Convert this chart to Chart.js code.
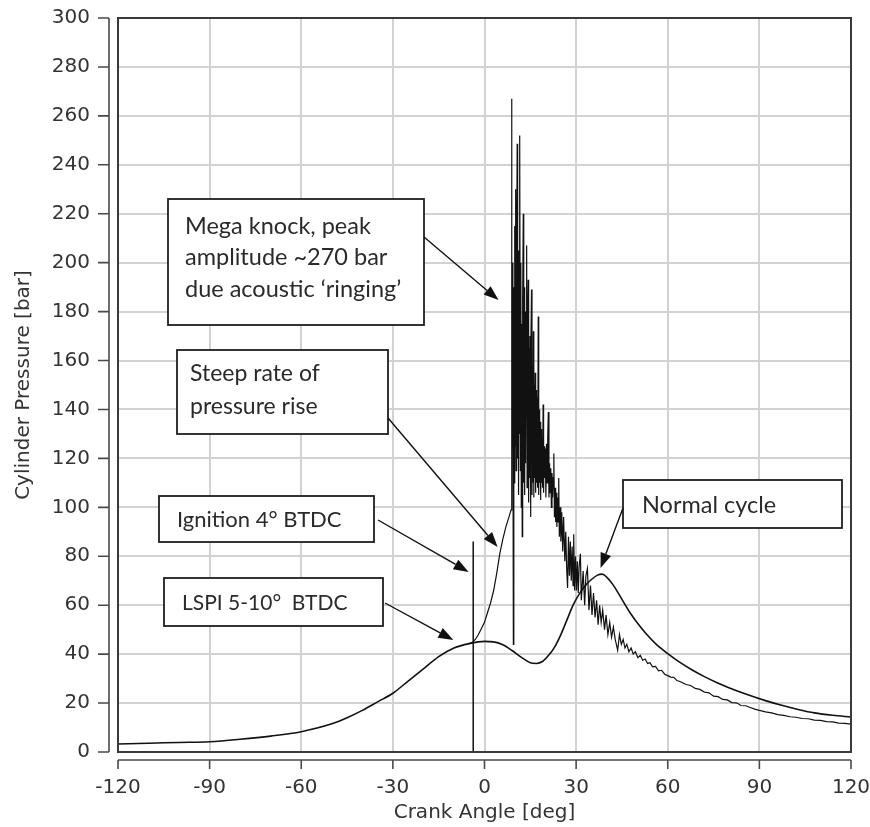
<!DOCTYPE html>
<html>
<head>
<meta charset="utf-8">
<script src="https://cdn.jsdelivr.net/npm/chart.js@4"></script>
<style>
html, body { margin: 0; padding: 0; background: #fff; }
canvas { display: block; }
</style>
</head>
<body>
<canvas id="myChart" width="870" height="827"></canvas>
<script>
// tick labels
const xTicks = [-120, -90, -60, -30, 0, 30, 60, 90, 120];
const yTicks = [0, 20, 40, 60, 80, 100, 120, 140, 160, 180, 200, 220, 240, 260, 280, 300];

// normal combustion cycle
const normalAngle = [-120, -110, -100, -90, -80, -70, -60, -50, -45, -40, -35, -30, -25, -20, -15, -10, -5, 0, 3, 6, 9, 12, 15, 17, 19, 21, 23, 25, 27, 29, 31, 33, 35, 37, 38.5, 40, 42, 44, 46, 48, 50, 53, 56, 60, 64, 68, 72, 76, 80, 86, 92, 97, 103, 108, 114, 120];
const normalPressure = [3.3, 3.6, 3.9, 4.2, 5.2, 6.5, 8.3, 11.5, 14, 17, 20.5, 24, 29, 34, 39, 42.5, 44.3, 45.2, 45, 43.8, 41.5, 38.8, 36.5, 36.2, 37, 39.5, 43, 48, 54, 60, 64.5, 68, 70.5, 72.3, 72.7, 71.5, 68.5, 64.5, 60.3, 56.3, 52.8, 48.2, 44.3, 40.2, 36.6, 33.5, 30.8, 28.4, 26.3, 23.5, 21, 19.2, 17.3, 16, 15, 14.3];

// LSPI / mega knock cycle [angle, pressure], branches off after ignition
const knockTrace = [
  [-5, 44.3], [-4, 44.8], [-3, 46], [-2, 48], [-1, 50.5], [0, 53], [1, 57], [2, 61], [3, 66], [4, 73],
  [5, 81], [6, 87], [7, 92], [8, 96], [8.7, 99],
  [8.85, 267], [9.0, 120], [9.15, 200], [9.3, 150], [9.45, 44], [9.6, 190], [9.75, 110], [9.9, 215], [10.05, 125], [10.2, 230],
  [10.35, 115], [10.5, 195], [10.7, 248.6], [10.85, 120], [11.0, 205], [11.15, 105], [11.3, 185], [11.45, 130], [11.6, 252], [11.75, 115],
  [11.9, 200], [12.05, 100], [12.2, 175], [12.35, 88], [12.5, 185], [12.7, 220], [12.85, 110], [13.0, 190], [13.15, 105], [13.3, 180],
  [13.45, 118], [13.6, 170], [13.8, 207], [13.95, 108], [14.1, 175], [14.3, 193], [14.45, 102], [14.6, 165], [14.75, 112], [14.9, 170],
  [15.05, 96], [15.2, 160], [15.4, 189], [15.55, 105], [15.7, 158], [15.85, 110], [16.0, 172], [16.15, 104], [16.3, 150], [16.45, 112],
  [16.6, 155], [16.75, 106], [16.9, 148], [17.05, 110], [17.2, 145], [17.4, 108], [17.6, 178], [17.75, 105], [17.9, 140], [18.05, 110],
  [18.2, 135], [18.4, 103], [18.55, 132], [18.7, 110], [18.85, 128], [19.0, 108], [19.2, 142], [19.35, 106], [19.5, 125], [19.7, 112],
  [19.9, 124], [20.1, 104], [20.3, 126], [20.5, 110], [20.7, 128], [20.9, 139], [21.1, 104], [21.3, 118], [21.5, 106], [21.7, 116],
  [21.9, 100], [22.1, 114], [22.3, 104], [22.5, 112], [22.7, 122], [22.9, 96], [23.1, 108], [23.3, 94], [23.5, 106], [23.7, 92],
  [23.9, 104], [24.1, 94], [24.3, 112], [24.5, 88], [24.8, 100], [25.0, 86], [25.3, 98], [25.6, 82], [25.9, 96], [26.3, 78],
  [26.6, 90], [26.9, 75], [27.2, 67], [27.5, 88], [27.8, 72], [28.1, 86], [28.4, 70], [28.7, 84], [29.0, 68], [29.2, 89],
  [29.5, 66], [29.8, 80], [30.1, 66], [30.4, 78], [30.7, 65], [31.0, 76], [31.4, 81], [31.7, 62], [32.3, 74], [32.8, 60],
  [33.2, 72], [33.7, 75], [34.2, 58], [34.7, 68], [35.2, 56], [35.7, 65], [36.2, 55], [36.7, 62], [37.2, 52], [37.7, 60],
  [38.2, 53], [38.7, 58], [39.3, 50], [39.8, 56], [40.4, 48], [41.0, 53], [41.6, 47], [42.2, 51], [42.8, 46], [43.6, 41.6],
  [44.2, 48], [44.8, 44], [45.4, 46], [46.0, 42.5], [46.6, 44], [47.3, 41], [48.0, 42.5], [48.7, 40], [49.4, 41], [50.2, 38.5],
  [51, 39.5], [51.8, 37.5], [52.6, 38], [53.4, 36.2], [54.2, 36.5], [55, 34.8], [56, 35], [57, 33.2], [58, 33.4], [59, 31.8],
  [60, 31.2], [61, 30.6], [62, 30.5], [63, 29.2], [64, 28.8], [65, 28.2], [66, 27.6], [67.5, 27.2], [69, 26], [70.5, 25.6],
  [72, 24.5], [73.5, 24.2], [75, 22.8], [76.5, 22.6], [78, 21.5], [79.5, 21.3], [81, 20.2], [82.5, 20.1], [84, 19], [85.5, 18.9],
  [87, 18.2], [88.5, 17.5], [90, 17], [92, 16.4], [94, 16], [96, 15.3], [98, 15], [100, 14.4], [102, 14.2], [104, 13.7],
  [106, 13.6], [108, 13], [110, 12.9], [112, 12.4], [114, 12.3], [116, 11.8], [118, 11.7], [120, 11.4]
];

// ignition marker (vertical line)
const ignitionAngle = [-3.7, -3.7];
const ignitionPressure = [0, 86];

// callout texts
const noteText = [
  ['Mega knock, peak', 'amplitude ~270 bar', 'due acoustic \u2018ringing\u2019'],
  ['Steep rate of', 'pressure rise'],
  ['Ignition 4\u00b0 BTDC'],
  ['LSPI 5-10\u00b0  BTDC'],
  ['Normal cycle']
];
// arrow tips point at the curves, in data units [angle, pressure]
const noteTarget = [[4.6, 184.7], [4.3, 83.8], [-5.2, 73.6], [-10.2, 45.8], [38, 75.2]];

// callout boxes in pixels: box, text start, line gap, arrow tail
const noteLayout = [
  { box: [168, 199, 256, 126], tx: 185, ty: 226, gap: 31.5, size: 23.5, tail: [424, 237] },
  { box: [177, 350, 211, 84], tx: 190, ty: 374, gap: 33, size: 23, tail: [388, 418] },
  { box: [159, 496, 215, 46], tx: 177, ty: 520, gap: 0, size: 22, tail: [378, 520] },
  { box: [164, 578, 219, 48], tx: 182, ty: 603, gap: 0, size: 21, tail: [385, 603] },
  { box: [623, 480, 219, 48], tx: 642, ty: 505, gap: 0, size: 23.5, tail: [623, 508] }
];

function toPoints(xs, ys) {
    return xs.map((v, i) => ({ x: v, y: ys[i] }));
}

function arrow(ctx, x1, y1, x2, y2) {
    const ang = Math.atan2(y2 - y1, x2 - x1);
    const len = 15, half = 5.5;
    const bx = x2 - len * Math.cos(ang), by = y2 - len * Math.sin(ang);
    ctx.beginPath();
    ctx.moveTo(x1, y1);
    ctx.lineTo(bx, by);
    ctx.stroke();
    ctx.beginPath();
    ctx.moveTo(x2, y2);
    ctx.lineTo(bx + half * Math.sin(ang), by - half * Math.cos(ang));
    ctx.lineTo(bx - half * Math.sin(ang), by + half * Math.cos(ang));
    ctx.closePath();
    ctx.fill();
}

const decorations = {
    id: 'decorations',
    afterDatasetsDraw(chart) {
        const { ctx, chartArea: a, scales: { x, y } } = chart;
        ctx.save();

        // plot frame
        ctx.strokeStyle = '#3a3a3a';
        ctx.lineWidth = 2;
        ctx.strokeRect(a.left, a.top, a.right - a.left, a.bottom - a.top);

        // detached axes with outward ticks
        ctx.strokeStyle = '#4a4a4a';
        ctx.lineWidth = 1.6;
        ctx.beginPath();
        const ax = a.left - 9;
        ctx.moveTo(ax, y.getPixelForValue(300));
        ctx.lineTo(ax, y.getPixelForValue(0));
        yTicks.forEach(v => {
            const py = y.getPixelForValue(v);
            ctx.moveTo(ax - 11, py);
            ctx.lineTo(ax, py);
        });
        const ay = a.bottom + 8;
        ctx.moveTo(x.getPixelForValue(-120), ay);
        ctx.lineTo(x.getPixelForValue(120), ay);
        xTicks.forEach(v => {
            const px = x.getPixelForValue(v);
            ctx.moveTo(px, ay);
            ctx.lineTo(px, ay + 9);
        });
        ctx.stroke();

        // callouts
        ctx.textBaseline = 'middle';
        noteLayout.forEach((n, i) => {
            const [bx, by, bw, bh] = n.box;
            ctx.fillStyle = '#fff';
            ctx.fillRect(bx, by, bw, bh);
            ctx.strokeStyle = '#1e1e1e';
            ctx.lineWidth = 1.8;
            ctx.strokeRect(bx, by, bw, bh);
            ctx.fillStyle = '#2a2a2a';
            ctx.font = n.size + 'px Lato';
            noteText[i].forEach((line, j) => ctx.fillText(line, n.tx, n.ty + j * n.gap));
            ctx.strokeStyle = '#111';
            ctx.fillStyle = '#111';
            ctx.lineWidth = 1.4;
            const [tx, ty] = noteTarget[i];
            arrow(ctx, n.tail[0], n.tail[1], x.getPixelForValue(tx), y.getPixelForValue(ty));
        });
        ctx.restore();
    }
};

const axisFont = { family: 'DejaVu Sans, sans-serif', size: 20 };

function fixBox(size) {
    return s => {
        if (s.isHorizontal()) s.height = size; else s.width = size;
        s.paddingTop = 0;
        s.paddingBottom = 0;
        s.paddingLeft = 0;
        s.paddingRight = 0;
    };
}

const ctx = document.getElementById('myChart').getContext('2d');

const myChart = new Chart(ctx, { // eslint-disable-line
    type: 'scatter',
    data: {
        datasets: [
            {
                label: 'Normal cycle',
                data: toPoints(normalAngle, normalPressure),
                showLine: true,
                borderColor: '#111',
                borderWidth: 1.6,
                pointRadius: 0,
                cubicInterpolationMode: 'monotone'
            },
            {
                label: 'Mega knock',
                data: knockTrace.map(p => ({ x: p[0], y: p[1] })),
                showLine: true,
                borderColor: '#111',
                borderWidth: 1.2,
                pointRadius: 0,
                tension: 0
            },
            {
                label: 'Ignition',
                data: toPoints(ignitionAngle, ignitionPressure),
                showLine: true,
                borderColor: '#000',
                borderWidth: 1.4,
                pointRadius: 0
            }
        ]
    },
    options: {
        responsive: false,
        animation: false,
        layout: { padding: { top: 18, right: 19, left: 0, bottom: 0 } },
        plugins: {
            legend: { display: false },
            tooltip: { enabled: false }
        },
        scales: {
            x: {
                type: 'linear',
                min: -120,
                max: 120,
                afterBuildTicks: s => { s.ticks = xTicks.map(v => ({ value: v })); },
                afterFit: fixBox(75),
                ticks: { font: axisFont, color: '#333', padding: 24, maxRotation: 0 },
                grid: { color: '#d2d2d2', lineWidth: 2, drawTicks: false },
                border: { display: false },
                title: {
                    display: true,
                    text: 'Crank Angle [deg]',
                    font: axisFont,
                    color: '#333',
                    padding: { top: 0, bottom: 2 }
                }
            },
            y: {
                min: 0,
                max: 300,
                afterBuildTicks: s => { s.ticks = yTicks.map(v => ({ value: v })); },
                afterFit: fixBox(118),
                ticks: { font: axisFont, color: '#333', padding: 28 },
                grid: { color: '#d2d2d2', lineWidth: 2, drawTicks: false },
                border: { display: false },
                title: {
                    display: true,
                    text: 'Cylinder Pressure [bar]',
                    font: axisFont,
                    color: '#333',
                    padding: { top: 12, bottom: 0 }
                }
            }
        }
    },
    plugins: [decorations]
});
</script>
</body>
</html>
